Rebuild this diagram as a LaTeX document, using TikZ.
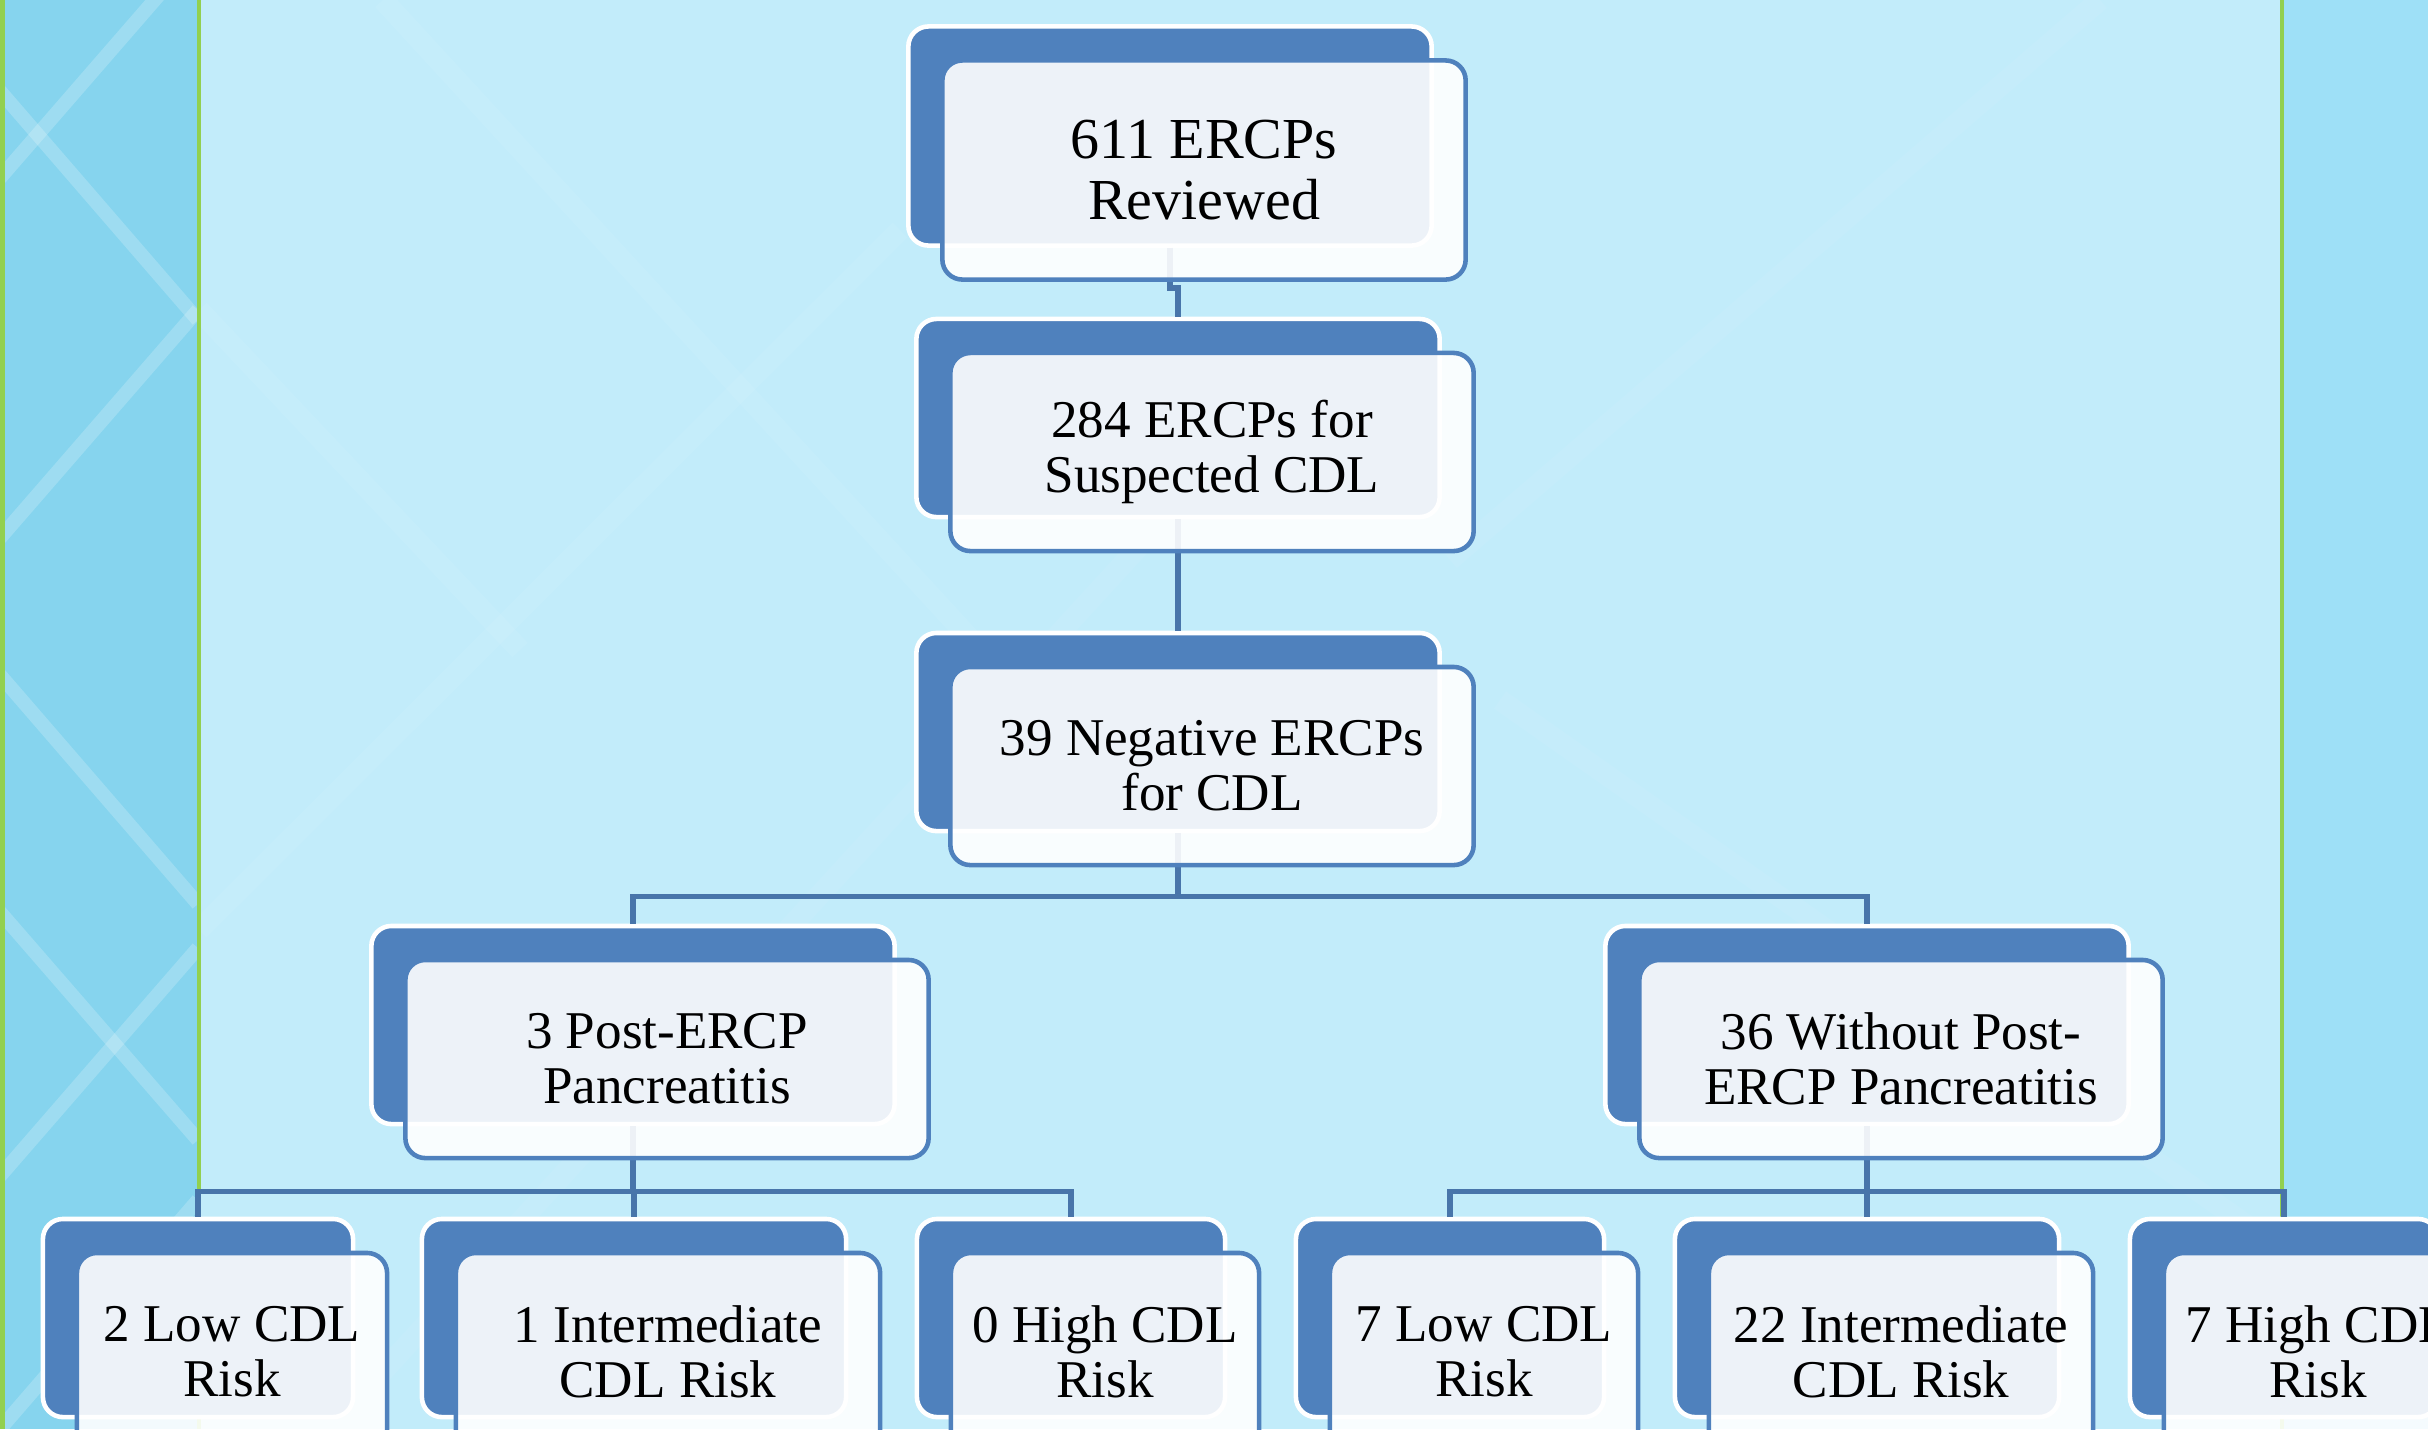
\documentclass[tikz,border=0pt]{standalone}
\usepackage{fontspec}
\setmainfont{Liberation Serif}
\definecolor{bgmain}{RGB}{194,236,250}
\definecolor{bgleft}{RGB}{134,212,238}
\definecolor{bgright}{RGB}{158,224,247}
\definecolor{rulegreen}{RGB}{146,208,80}
\definecolor{boxblue}{RGB}{79,129,189}
\definecolor{linkblue}{RGB}{72,117,170}
\tikzset{
  backbox/.style={draw=white, line width=1.3pt, fill=boxblue, rounded corners=0.2cm, inner sep=0pt},
  frontbox/.style={draw=boxblue, line width=1.3pt, fill=white, fill opacity=0.9, text opacity=1,
    rounded corners=0.2cm, inner sep=0pt, align=center, font=\fontsize{15.1}{15.6}\selectfont},
  link/.style={draw=linkblue, line width=1.6pt},
  glint/.style={white, line width=4pt, opacity=0.2},
  rowbox/.style={minimum width=5.23cm, minimum height=1.98cm}
}
\begin{document}
\begin{tikzpicture}[x=0.01cm, y=-0.01cm]
\useasboundingbox (0,0) rectangle (2428,1429);
\clip (0,0) rectangle (2428,1429);
\fill[bgmain] (0,0) rectangle (2428,1429);
\fill[bgleft] (0,0) rectangle (199,1429);
\fill[bgright] (2282,0) rectangle (2428,1429);

\begin{scope}
\clip (0,0) rectangle (199,1429);
\draw[glint] (0,178) -- (198,-50);
\draw[glint] (0,91) -- (198,320);
\draw[glint] (0,538) -- (198,310);
\draw[glint] (0,675) -- (198,904);
\draw[glint] (0,912) -- (198,1140);
\draw[glint] (0,1176) -- (198,948);
\draw[glint] (0,1429) -- (198,1200);
\end{scope}
\begin{scope}
\clip (199,0) rectangle (2282,1429);
\draw[glint, opacity=0.06, line width=6pt] (383,0) -- (1100,780);
\draw[glint, opacity=0.06, line width=6pt] (199,310) -- (520,650);
\draw[glint, opacity=0.06, line width=6pt] (199,930) -- (900,230);
\draw[glint, opacity=0.05, line width=6pt] (330,1429) -- (1200,480);
\draw[glint, opacity=0.05, line width=6pt] (1500,700) -- (2282,1250);
\draw[glint, opacity=0.05, line width=6pt] (1450,560) -- (2100,0);
\end{scope}

\draw[rulegreen, line width=1.2pt] (2.5,0) -- (2.5,1429);
\draw[rulegreen, line width=1.2pt] (199,0) -- (199,1429);
\draw[rulegreen, line width=1.2pt] (2282,0) -- (2282,1429);

\node[backbox, minimum width=5.23cm, minimum height=2.19cm] (b1) at (1170,136) {};
\node[backbox, rowbox] (b2) at (1178,418) {};
\node[backbox, rowbox] (b3) at (1178,732) {};
\node[backbox, rowbox] (b4l) at (633,1025) {};
\node[backbox, rowbox] (b4r) at (1867,1025) {};
\node[backbox, rowbox, minimum width=3.10cm] (b5a) at (198,1318) {};
\node[backbox, rowbox, minimum width=4.24cm] (b5b) at (634,1318) {};
\node[backbox, rowbox, minimum width=3.08cm] (b5c) at (1071,1318) {};
\node[backbox, rowbox, minimum width=3.08cm] (b5d) at (1450,1318) {};
\node[backbox, rowbox, minimum width=3.84cm] (b5e) at (1867,1318) {};
\node[backbox, rowbox, minimum width=3.08cm] (b5f) at (2284,1318) {};

\draw[link] (b1.south) -- ++(0,40) -| (b2.north);
\draw[link] (b2.south) -- (b3.north);
\draw[link] (b3.south) -- ++(0,63) -| (b4l.north);
\draw[link] (b3.south) -- ++(0,63) -| (b4r.north);
\draw[link] (b4l.south) -- ++(0,65) -| (b5a.north);
\draw[link] (b4l.south) -- ++(0,65) -| (b5b.north);
\draw[link] (b4l.south) -- ++(0,65) -| (b5c.north);
\draw[link] (b4r.south) -- ++(0,65) -| (b5d.north);
\draw[link] (b4r.south) -- ++(0,65) -| (b5e.north);
\draw[link] (b4r.south) -- ++(0,65) -| (b5f.north);

\node[frontbox, minimum width=5.23cm, minimum height=2.19cm, font=\fontsize{16.5}{17.2}\selectfont] (n1) at (1204,170) {611 ERCPs\\Reviewed};
\node[frontbox, rowbox] (n2) at (1212,452) {284 ERCPs for\\Suspected CDL};
\node[frontbox, rowbox] (n3) at (1212,766) {39 Negative ERCPs\\for CDL};
\node[frontbox, rowbox] (n4l) at (667,1059) {3 Post-ERCP\\Pancreatitis};
\node[frontbox, rowbox] (n4r) at (1901,1059) {36 Without Post-\\ERCP Pancreatitis};
\node[frontbox, rowbox, minimum width=3.10cm] (n5a) at (232,1352) {2 Low CDL\\Risk};
\node[frontbox, rowbox, minimum width=4.24cm] (n5b) at (668,1352) {1 Intermediate\\CDL Risk};
\node[frontbox, rowbox, minimum width=3.08cm] (n5c) at (1105,1352) {0 High CDL\\Risk};
\node[frontbox, rowbox, minimum width=3.08cm] (n5d) at (1484,1352) {7 Low CDL\\Risk};
\node[frontbox, rowbox, minimum width=3.84cm] (n5e) at (1901,1352) {22 Intermediate\\CDL Risk};
\node[frontbox, rowbox, minimum width=3.08cm] (n5f) at (2318,1352) {7 High CDL\\Risk};
\end{tikzpicture}
\end{document}
